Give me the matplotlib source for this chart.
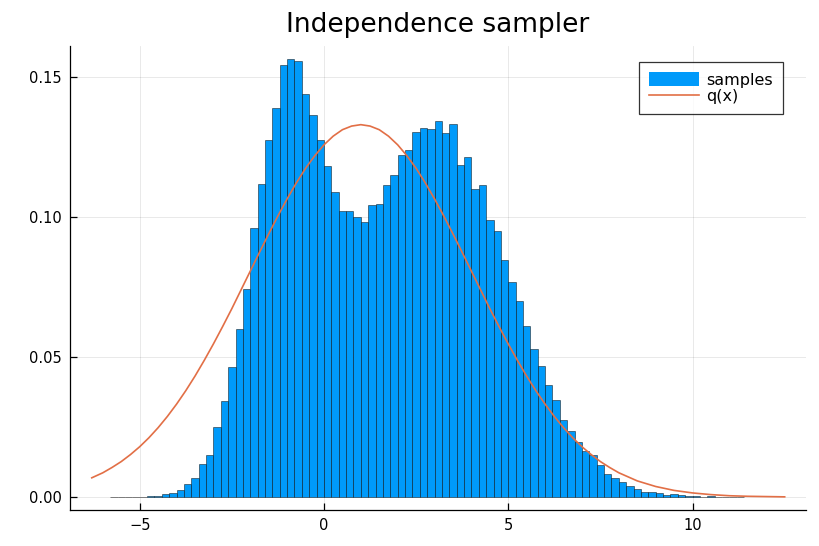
import numpy as np
import matplotlib
matplotlib.use("Agg")
import matplotlib.pyplot as plt

# histogram of the samples, bins of width 0.2 starting at -5.8
bin_start = -5.8
bin_width = 0.2
density = [
    0.0001, 0.0001, 0.0002, 0.0001, 0.0002, 0.0003, 0.0004, 0.0010, 0.0015, 0.0027,
    0.0048, 0.0067, 0.0117, 0.0152, 0.0249, 0.0344, 0.0465, 0.0599, 0.0743, 0.0962,
    0.1118, 0.1275, 0.1391, 0.1544, 0.1563, 0.1557, 0.1439, 0.1365, 0.1275, 0.1181,
    0.1088, 0.1021, 0.1021, 0.1000, 0.0981, 0.1042, 0.1045, 0.1116, 0.1151, 0.1221,
    0.1238, 0.1305, 0.1319, 0.1314, 0.1343, 0.1302, 0.1332, 0.1186, 0.1215, 0.1100,
    0.1114, 0.0988, 0.0949, 0.0845, 0.0768, 0.0700, 0.0610, 0.0530, 0.0468, 0.0402,
    0.0346, 0.0277, 0.0236, 0.0198, 0.0164, 0.0149, 0.0114, 0.0083, 0.0069, 0.0054,
    0.0039, 0.0030, 0.0020, 0.0018, 0.0014, 0.0007, 0.0010, 0.0006, 0.0004, 0.0003,
    0.0002, 0.0003, 0.0002, 0.0001, 0.0001, 0.0001,
]

# proposal density q(x)
q_x = [-6.3, -6.0, -5.75, -5.5, -5.25, -5.0, -4.75, -4.5, -4.25, -4.0, -3.75, -3.5,
       -3.25, -3.0, -2.75, -2.5, -2.25, -2.0, -1.75, -1.5, -1.25, -1.0, -0.75, -0.5,
       -0.25, 0.0, 0.25, 0.5, 0.75, 1.0, 1.25, 1.5, 1.75, 2.0, 2.25, 2.5, 2.75, 3.0,
       3.25, 3.5, 3.75, 4.0, 4.25, 4.5, 4.75, 5.0, 5.25, 5.5, 5.75, 6.0, 6.25, 6.5,
       6.75, 7.0, 7.25, 7.5, 7.75, 8.0, 8.5, 9.0, 9.5, 10.0, 10.5, 11.0, 11.5, 12.0,
       12.5]
q_y = [0.0069, 0.0087, 0.0106, 0.0127, 0.0152, 0.0180, 0.0212, 0.0248, 0.0288,
       0.0332, 0.0380, 0.0432, 0.0488, 0.0547, 0.0609, 0.0673, 0.0740, 0.0807,
       0.0874, 0.0940, 0.1004, 0.1065, 0.1122, 0.1174, 0.1219, 0.1258, 0.1289,
       0.1312, 0.1325, 0.1330, 0.1325, 0.1312, 0.1289, 0.1258, 0.1219, 0.1174,
       0.1122, 0.1065, 0.1004, 0.0940, 0.0874, 0.0807, 0.0740, 0.0673, 0.0609,
       0.0547, 0.0488, 0.0432, 0.0380, 0.0332, 0.0288, 0.0248, 0.0212, 0.0180,
       0.0152, 0.0127, 0.0106, 0.0087, 0.0058, 0.0038, 0.0024, 0.0015, 0.0009,
       0.0005, 0.0003, 0.0002, 0.0001]

x_ticks = [-5, 0, 5, 10]
y_ticks = [0.00, 0.05, 0.10, 0.15]

fig = plt.figure(figsize=(8.2, 5.46), dpi=100)
ax = fig.add_axes([0.0854, 0.0659, 0.8976, 0.8499])

# bars
lefts = bin_start + bin_width * np.arange(len(density))
bars = ax.bar(lefts, density, width=bin_width, align="edge", color="#009AFA",
              edgecolor=(0, 0, 0, 0.55), linewidth=0.6, label="samples", zorder=2)

# q(x) line
line, = ax.plot(q_x, q_y, color="#E26F46", linewidth=1.2, label="q(x)", zorder=3)

ax.set_xlim(-6.89, 13.08)
ax.set_ylim(-0.0046, 0.1611)
ax.set_xticks(x_ticks)
ax.set_yticks(y_ticks)
ax.set_yticklabels(["%.2f" % v for v in y_ticks])

# Plots.jl look: only left/bottom axis, light grid, inward ticks
ax.spines["top"].set_visible(False)
ax.spines["right"].set_visible(False)
ax.spines["left"].set_linewidth(0.9)
ax.spines["bottom"].set_linewidth(0.9)
ax.grid(True, color="black", alpha=0.1, linewidth=0.6, zorder=0)
ax.set_axisbelow(True)
ax.tick_params(direction="in", length=5, width=0.9, labelsize=10.5, pad=6)

ax.set_title("Independence sampler", fontsize=19, pad=10)

leg = ax.legend([bars, line], ["samples", "q(x)"], loc="upper right",
                bbox_to_anchor=(0.9688, 0.9655), borderaxespad=0, fontsize=11.5,
                frameon=True, fancybox=False, edgecolor="black",
                handlelength=3.1, handleheight=0.95, handletextpad=0.45,
                borderpad=0.65, labelspacing=0.05)
leg.get_frame().set_linewidth(0.9)
leg.legend_handles[0].set_edgecolor("none")

plt.savefig("out.png", dpi=100)
